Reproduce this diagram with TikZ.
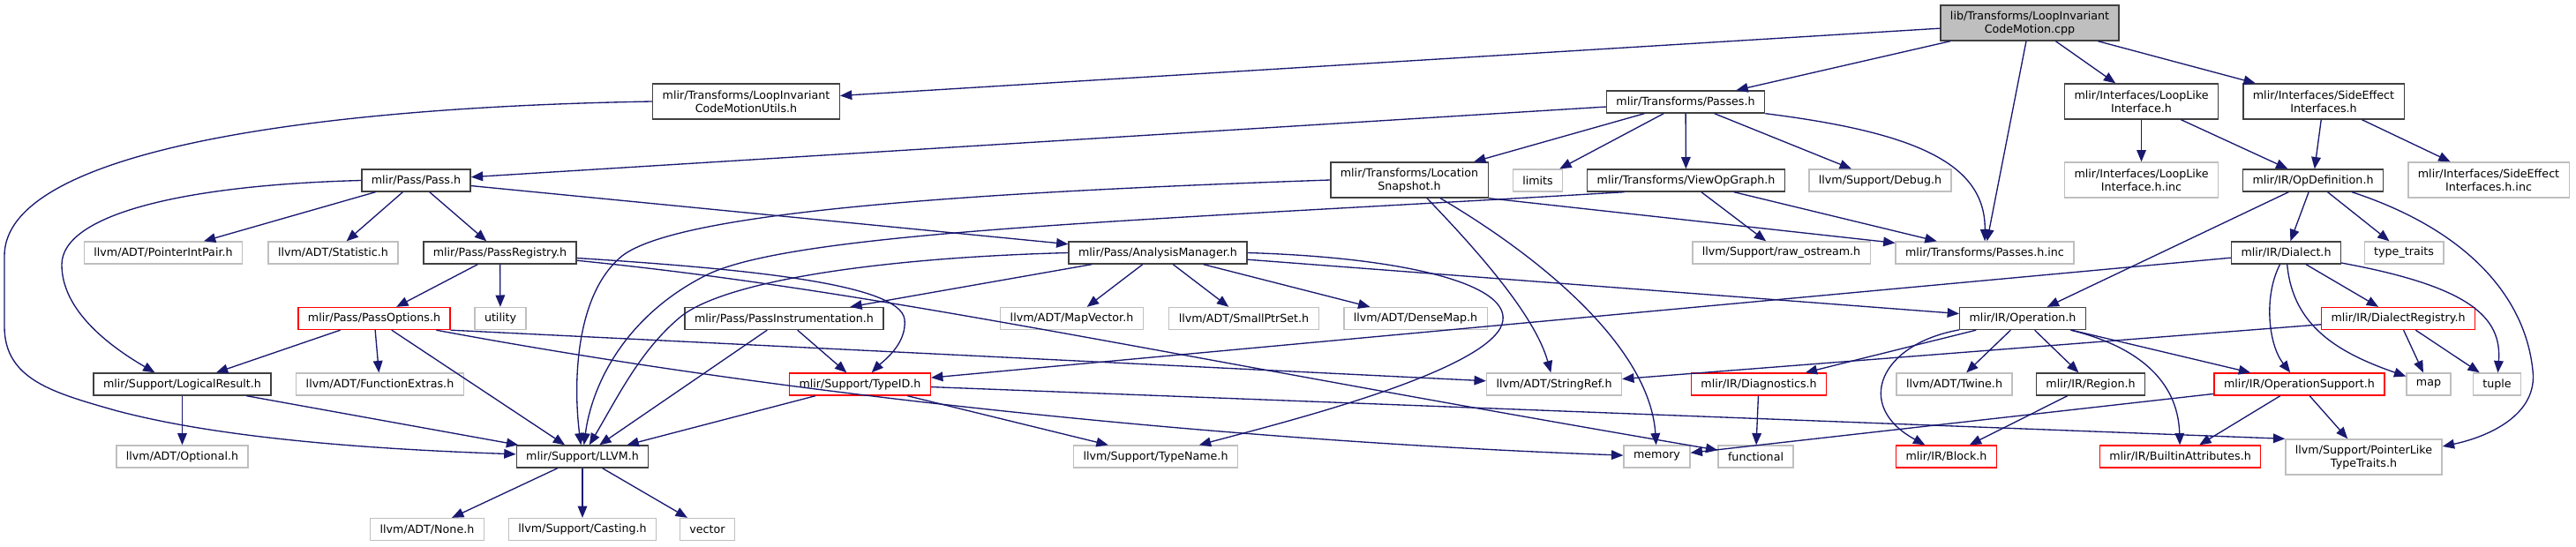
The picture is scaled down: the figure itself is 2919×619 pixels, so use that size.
\documentclass[tikz,border=0pt]{standalone}
\usepackage{fontspec}
\setmainfont{DejaVu Sans}
\usetikzlibrary{arrows.meta, calc}
\definecolor{edgeblue}{RGB}{25,25,112}
\definecolor{docgray}{RGB}{64,64,64}
\definecolor{extgray}{RGB}{191,191,191}

\begin{document}
\begin{tikzpicture}[
        x=0.75pt, y=-0.75pt,
        file/.style={rectangle, draw, fill=white, line width=1pt, inner xsep=8.25pt, inner ysep=2pt, minimum height=18.75pt, align=center, font=\fontsize{9.5}{11.25}\selectfont},
        doc/.style={file, draw=docgray},
        ext/.style={file, draw=extgray},
        trunc/.style={file, draw=red},
        twoline/.style={minimum height=30pt},
        rootfile/.style={file, draw=docgray, fill=extgray},
        incl/.style={-{Triangle[length=10pt, width=8pt]}, draw=edgeblue, line width=1pt}
    ]
        \useasboundingbox (0,0) rectangle (2919,619);

        % row 0 and 1
        \node[rootfile, twoline] (licmCpp) at (2300,26) {lib/Transforms/LoopInvariant\\CodeMotion.cpp};
        \node[doc, twoline] (licmUtils) at (845.5,115) {mlir/Transforms/LoopInvariant\\CodeMotionUtils.h};
        \node[doc] (passesH) at (1910,115.5) {mlir/Transforms/Passes.h};
        \node[doc, twoline] (loopLike) at (2426.5,115) {mlir/Interfaces/LoopLike\\Interface.h};
        \node[doc, twoline] (sideEffect) at (2633,115) {mlir/Interfaces/SideEffect\\Interfaces.h};

        % row 2
        \node[doc] (passH) at (471.5,204.5) {mlir/Pass/Pass.h};
        \node[doc, twoline] (locSnapshot) at (1597,204) {mlir/Transforms/Location\\Snapshot.h};
        \node[ext] (limits) at (1742.5,204.5) {limits};
        \node[doc] (viewOpGraph) at (1910.5,204.5) {mlir/Transforms/ViewOpGraph.h};
        \node[ext] (debugH) at (2130.5,204.5) {llvm/Support/Debug.h};
        \node[ext, twoline] (loopLikeInc) at (2426.5,204) {mlir/Interfaces/LoopLike\\Interface.h.inc};
        \node[doc] (opDef) at (2621,204.5) {mlir/IR/OpDefinition.h};
        \node[ext, twoline] (sideEffectInc) at (2820,204) {mlir/Interfaces/SideEffect\\Interfaces.h.inc};

        % row 3
        \node[ext] (pointerIntPair) at (185,286.5) {llvm/ADT/PointerIntPair.h};
        \node[ext] (statistic) at (377.5,286.5) {llvm/ADT/Statistic.h};
        \node[doc] (passRegistry) at (566.5,286.5) {mlir/Pass/PassRegistry.h};
        \node[doc] (analysisMgr) at (1312,286.5) {mlir/Pass/AnalysisManager.h};
        \node[ext] (rawOstream) at (2018.5,286.5) {llvm/Support/raw\_ostream.h};
        \node[ext] (passesInc) at (2249,286.5) {mlir/Transforms/Passes.h.inc};
        \node[doc] (dialectH) at (2590.5,286.5) {mlir/IR/Dialect.h};
        \node[ext] (typeTraits) at (2724,286.5) {type\_traits};

        % row 4
        \node[trunc] (passOptions) at (424,361) {mlir/Pass/PassOptions.h};
        \node[ext] (utility) at (567,361) {utility};
        \node[doc] (passInstr) at (888.5,361) {mlir/Pass/PassInstrumentation.h};
        \node[ext] (mapVector) at (1214.5,361) {llvm/ADT/MapVector.h};
        \node[ext] (smallPtrSet) at (1409.5,361) {llvm/ADT/SmallPtrSet.h};
        \node[ext] (denseMap) at (1604,361) {llvm/ADT/DenseMap.h};
        \node[doc] (operationH) at (2292,361) {mlir/IR/Operation.h};
        \node[trunc] (dialectReg) at (2717.5,361) {mlir/IR/DialectRegistry.h};

        % row 5
        \node[doc] (logicalResult) at (206.5,435.5) {mlir/Support/LogicalResult.h};
        \node[ext] (functionExtras) at (430.5,435.5) {llvm/ADT/FunctionExtras.h};
        \node[trunc] (typeId) at (974.5,435.5) {mlir/Support/TypeID.h};
        \node[ext] (stringRef) at (1761,435.5) {llvm/ADT/StringRef.h};
        \node[trunc] (diagnostics) at (1993,435.5) {mlir/IR/Diagnostics.h};
        \node[ext] (twine) at (2214.5,435.5) {llvm/ADT/Twine.h};
        \node[doc] (regionH) at (2369,435.5) {mlir/IR/Region.h};
        \node[trunc] (opSupport) at (2605.5,435.5) {mlir/IR/OperationSupport.h};
        \node[ext] (mapH) at (2752,435.5) {map};
        \node[ext] (tupleH) at (2829.5,435.5) {tuple};

        % row 6
        \node[ext] (optional) at (206.5,517.5) {llvm/ADT/Optional.h};
        \node[doc] (llvmH) at (660,517.5) {mlir/Support/LLVM.h};
        \node[ext] (typeName) at (1309.5,517.5) {llvm/Support/TypeName.h};
        \node[ext] (memoryH) at (1877.5,517.5) {memory};
        \node[ext] (functionalH) at (1989.5,517.5) {functional};
        \node[trunc] (blockH) at (2205.5,517.5) {mlir/IR/Block.h};
        \node[trunc] (builtinAttr) at (2470.5,517.5) {mlir/IR/BuiltinAttributes.h};
        \node[ext, twoline] (ptrLike) at (2678.5,518) {llvm/Support/PointerLike\\TypeTraits.h};

        % row 7
        \node[ext] (noneH) at (484,600) {llvm/ADT/None.h};
        \node[ext] (casting) at (660,600) {llvm/Support/Casting.h};
        \node[ext] (vectorH) at (801.5,600) {vector};

        % the .cpp file
        \draw[incl] (licmCpp) -- (licmUtils);
        \draw[incl] (licmCpp) -- (passesH);
        \draw[incl] (licmCpp) -- (passesInc);
        \draw[incl] (licmCpp) -- (loopLike);
        \draw[incl] (licmCpp) -- (sideEffect);
        \draw[incl] (licmUtils.west) .. controls (330,122) and (5,175) .. (5,290) -- (5,370) .. controls (5,430) and (60,445) .. (130,465) .. controls (260,500) and (450,510) .. (llvmH);

        % Passes.h
        \draw[incl] (passesH) -- (passH);
        \draw[incl] (passesH) -- (locSnapshot);
        \draw[incl] (passesH) -- (limits);
        \draw[incl] (passesH) -- (viewOpGraph);
        \draw[incl] (passesH) -- (debugH);
        \draw[incl] (passesH.south east) .. controls (2170,150) and (2250,185) .. (passesInc);

        % Pass.h
        \draw[incl] (passH) -- (pointerIntPair);
        \draw[incl] (passH) -- (statistic);
        \draw[incl] (passH) -- (passRegistry);
        \draw[incl] (passH) -- (analysisMgr);
        \draw[incl] (passH.west) .. controls (200,210) and (70,245) .. (70,300) .. controls (70,350) and (120,390) .. ($(logicalResult.north)+(-31,0)$);

        % LocationSnapshot.h and ViewOpGraph.h
        \draw[incl] (locSnapshot.west) .. controls (1100,218) and (770,240) .. (705,290) .. controls (650,335) and (650,440) .. (llvmH);
        \draw[incl] (locSnapshot) .. controls (1680,290) and (1740,360) .. (stringRef);
        \draw[incl] (locSnapshot) .. controls (1760,300) and (1870,400) .. (memoryH);
        \draw[incl] (locSnapshot.south east) -- (passesInc);
        \draw[incl] ($(viewOpGraph.south)+(-70,0)$) .. controls (1300,250) and (900,262) .. (800,312) .. controls (705,360) and (670,440) .. (llvmH);
        \draw[incl] (viewOpGraph) -- (rawOstream);
        \draw[incl] (viewOpGraph) -- (passesInc);

        % PassRegistry.h
        \draw[incl] (passRegistry) -- (passOptions);
        \draw[incl] (passRegistry) -- (utility);
        \draw[incl] ($(passRegistry.east)+(0,6)$) .. controls (850,305) and (1020,322) .. (1025,362) .. controls (1028,390) and (1000,410) .. (typeId);
        \draw[incl] (passRegistry) .. controls (1000,330) and (1300,400) .. (functionalH);

        % AnalysisManager.h
        \draw[incl] (analysisMgr) -- (passInstr);
        \draw[incl] (analysisMgr) -- (mapVector);
        \draw[incl] (analysisMgr) -- (smallPtrSet);
        \draw[incl] (analysisMgr) -- (denseMap);
        \draw[incl] (analysisMgr) -- (operationH);
        \draw[incl] (analysisMgr.west) .. controls (1000,292) and (820,318) .. (770,360) .. controls (725,398) and (700,450) .. (llvmH);
        \draw[incl] (analysisMgr.east) .. controls (1600,292) and (1725,325) .. (1700,372) .. controls (1670,425) and (1450,480) .. (typeName);

        % PassOptions.h, PassInstrumentation.h, TypeID.h
        \draw[incl] (passOptions) -- (logicalResult);
        \draw[incl] (passOptions) -- (functionExtras);
        \draw[incl] (passOptions) -- (llvmH);
        \draw[incl] (passOptions.south east) -- (stringRef);
        \draw[incl] (passOptions) .. controls (900,450) and (1400,500) .. (memoryH);
        \draw[incl] (passInstr) -- (llvmH);
        \draw[incl] (passInstr) -- (typeId);
        \draw[incl] (typeId) -- (llvmH);
        \draw[incl] (typeId) -- (typeName);
        \draw[incl] (typeId) -- (ptrLike.north west);

        % LogicalResult.h and LLVM.h
        \draw[incl] (logicalResult) -- (optional);
        \draw[incl] (logicalResult) -- (llvmH);
        \draw[incl] (llvmH) -- (noneH);
        \draw[incl] (llvmH) -- (casting);
        \draw[incl] (llvmH) -- (vectorH);

        % interfaces
        \draw[incl] (loopLike) -- (loopLikeInc);
        \draw[incl] (loopLike) -- (opDef);
        \draw[incl] (sideEffect) -- (opDef);
        \draw[incl] (sideEffect) -- (sideEffectInc);

        % OpDefinition.h
        \draw[incl] (opDef) -- (operationH);
        \draw[incl] (opDef) -- (dialectH);
        \draw[incl] (opDef) -- (typeTraits);
        \draw[incl] ($(opDef.south)+(44,0)$) .. controls (2800,262) and (2862,340) .. (2870,420) .. controls (2876,470) and (2820,495) .. ($(ptrLike.east)+(0,-12)$);

        % Dialect.h and DialectRegistry.h
        \draw[incl] (dialectH) -- (typeId);
        \draw[incl] (dialectH) -- (dialectReg);
        \draw[incl] (dialectH) .. controls (2565,335) and (2570,390) .. (opSupport);
        \draw[incl] (dialectH) .. controls (2598,370) and (2650,400) .. (mapH);
        \draw[incl] (dialectH) .. controls (2800,325) and (2835,360) .. (tupleH);
        \draw[incl] (dialectReg) -- (mapH);
        \draw[incl] (dialectReg) -- (tupleH);
        \draw[incl] (dialectReg) -- (stringRef);

        % Operation.h and below
        \draw[incl] (operationH) -- (diagnostics);
        \draw[incl] (operationH) -- (twine);
        \draw[incl] (operationH) -- (regionH);
        \draw[incl] (operationH) -- (opSupport);
        \draw[incl] (operationH) .. controls (2130,390) and (2100,460) .. (blockH);
        \draw[incl] (operationH) .. controls (2420,392) and (2468,430) .. (builtinAttr);
        \draw[incl] (regionH) -- (blockH);
        \draw[incl] (diagnostics) -- (functionalH);
        \draw[incl] (opSupport) -- (memoryH);
        \draw[incl] (opSupport) -- (builtinAttr);
        \draw[incl] (opSupport) -- (ptrLike);
    \end{tikzpicture}
\end{document}
